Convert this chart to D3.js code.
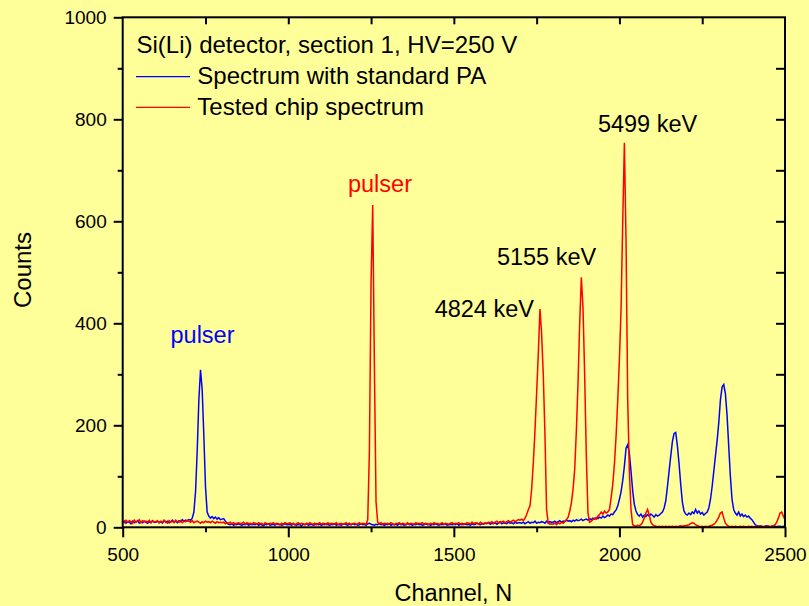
<!DOCTYPE html>
<html><head><meta charset="utf-8">
<script src="https://cdn.jsdelivr.net/npm/d3@7/dist/d3.min.js"></script>
<style>
body{margin:0;background:#ffff99;}
svg{display:block;font-family:Arial,"Liberation Sans",sans-serif;}
</style>
</head><body>
<svg id="chart" width="809" height="606"></svg>
<script>
// ---- data (channels start at 500, step 5) ----
const startChannel = 500;
const channelStep = 5;

const blueCounts = [
  9,12,8,11,10,7,12,9,10,13,8,11,9,12,10,8,11,9,13,10,
  10,12,9,11,8,13,10,12,9,11,14,10,12,9,13,11,15,12,14,13,
  15,14,18,30,70,150,250,309,270,180,80,30,22,18,21,17,20,16,19,15,
  16,17,12,8,6,5,7,4,6,5,7,5,4,6,5,7,4,6,5,6,
  5,7,4,6,5,3,6,5,7,4,5,6,4,7,5,6,4,5,7,5,
  5,6,4,7,5,4,6,5,3,6,5,7,4,5,6,4,5,7,5,6,
  4,6,5,7,5,4,6,5,7,4,6,5,4,6,7,5,4,6,5,7,
  5,6,4,5,7,5,6,4,7,8,6,5,4,6,5,7,5,6,4,6,
  5,7,4,6,5,6,4,7,5,6,4,5,7,5,6,4,6,5,7,5,
  6,4,5,7,5,6,4,6,5,7,5,4,6,5,7,6,4,5,6,5,
  6,5,7,4,6,5,7,6,5,6,4,7,5,6,8,6,5,7,6,8,
  7,9,6,8,7,9,6,8,10,7,9,8,7,10,8,9,7,10,8,9,
  9,8,10,7,9,11,8,10,9,12,8,10,9,11,10,8,12,9,11,10,
  10,12,9,11,13,10,12,11,14,12,13,11,14,12,15,13,14,16,13,15,
  16,14,17,15,18,16,19,17,20,18,22,19,21,24,22,26,25,30,34,42,
  55,70,92,120,155,162,145,110,72,45,32,25,22,26,20,24,21,25,22,26,
  23,20,25,22,24,27,30,38,52,80,110,140,168,184,186,160,125,85,50,32,
  26,24,28,25,30,27,35,28,32,26,29,24,27,30,38,55,80,110,140,170,
  205,250,275,280,262,220,160,100,55,35,28,24,30,22,26,21,24,20,22,18,
  15,10,5,3,2,3,2,1,2,3,2,1,2,3,2,1,2,2,1,2,
  1
];

const redCounts = [
  12,9,14,10,13,11,8,14,10,12,15,9,13,11,12,10,14,9,12,11,
  11,13,9,12,10,14,11,8,13,10,12,9,14,11,10,13,9,12,11,13,
  12,10,13,9,11,12,10,8,11,9,12,10,11,9,12,10,8,11,9,10,
  9,10,7,9,8,10,7,9,6,8,9,7,8,10,6,9,7,8,6,9,
  8,6,9,7,8,5,9,7,6,8,7,9,6,8,7,5,8,6,9,7,
  7,9,6,8,5,7,9,6,8,7,5,8,6,9,7,6,8,5,7,9,
  6,8,7,5,9,6,8,7,6,9,5,7,8,6,7,9,6,8,5,7,
  8,6,7,9,6,8,7,6,15,150,480,632,320,50,10,7,9,6,8,7,
  8,6,9,7,5,8,7,9,6,8,7,5,9,6,8,7,6,9,7,8,
  7,9,6,8,7,5,8,6,9,7,8,6,7,9,5,8,7,6,8,9,
  6,8,7,9,6,8,5,7,9,8,6,10,7,9,8,6,10,8,7,9,
  8,10,9,11,8,10,12,9,11,10,12,9,11,13,10,12,14,11,13,15,
  14,16,13,18,25,35,42,75,127,190,264,340,428,380,300,185,35,8,6,7,
  6,8,5,9,7,10,8,12,15,20,32,48,75,114,190,283,400,490,430,300,
  140,28,10,12,15,18,16,22,25,30,26,32,28,30,35,58,85,125,180,250,
  330,430,600,754,560,250,110,35,5,3,2,4,3,5,10,18,28,35,24,10,
  5,3,2,1,2,1,2,1,2,1,2,1,2,1,2,1,2,3,2,3,
  3,4,5,7,9,8,5,3,2,1,2,1,2,1,2,3,4,6,9,14,
  20,28,30,18,8,4,2,1,2,1,2,1,1,2,1,2,1,1,2,1,
  2,1,1,2,1,2,1,1,2,1,2,1,2,3,5,10,18,28,30,22,
  15
];

const xMajorTicks = [500, 1000, 1500, 2000, 2500];
const xMinorTicks = [750, 1250, 1750, 2250];
const yMajorTicks = [0, 200, 400, 600, 800, 1000];
const yMinorTicks = [100, 300, 500, 700, 900];
const xTopTicks = [750, 1000, 1250, 1500, 1750, 2000, 2250];
const yRightTicks = [100, 200, 300, 400, 500, 600, 700, 800, 900];

const legendTitle = "Si(Li) detector, section 1, HV=250 V";
const seriesNames = ["Spectrum with standard PA", "Tested chip spectrum"];
const seriesColors = ["#0000ff", "#ff0000"];

// peak annotations: [text, channel, counts, color]
const annotations = [
  ["pulser", 741, 362, "#0000ff"],
  ["pulser", 1277, 658, "#ff0000"],
  ["4824 keV", 1592, 412, "#000000"],
  ["5155 keV", 1780, 514, "#000000"],
  ["5499 keV", 2085, 776, "#000000"]
];

// ---- layout ----
const W = 809, H = 606;
const m = {left: 122.7, right: 24, top: 17.3, bottom: 78.7};
const iw = W - m.left - m.right, ih = H - m.top - m.bottom;

const svg = d3.select("#chart");
svg.append("rect").attr("width", W).attr("height", H).attr("fill", "#ffff99");

const x = d3.scaleLinear().domain([500, 2500]).range([0, iw]);
const y = d3.scaleLinear().domain([0, 1000]).range([ih, 0]);

const g = svg.append("g").attr("transform", `translate(${m.left},${m.top})`);

g.append("clipPath").attr("id", "clip").append("rect")
  .attr("x", 0).attr("y", -1).attr("width", iw).attr("height", ih + 1);

const toPoints = arr => arr.map((v, i) => [startChannel + i * channelStep, v]);
const line = d3.line().x(d => x(d[0])).y(d => y(d[1]));

const plot = g.append("g").attr("clip-path", "url(#clip)");
plot.append("path").datum(toPoints(blueCounts))
  .attr("d", line).attr("fill", "none").attr("stroke", seriesColors[0])
  .attr("stroke-width", 1.5);
plot.append("path").datum(toPoints(redCounts))
  .attr("d", line).attr("fill", "none").attr("stroke", seriesColors[1])
  .attr("stroke-width", 1.5);

// ---- axes ----
function styleAxis(sel) {
  sel.select(".domain").remove();
  sel.selectAll(".tick line").attr("stroke", "#000").attr("stroke-width", 2);
  sel.selectAll(".tick text").attr("fill", "#000").style("font-size", "19px")
     .style("font-family", "Arial, 'Liberation Sans', sans-serif");
}

g.append("g").attr("transform", `translate(0,${ih})`)
  .call(d3.axisBottom(x).tickValues(xMajorTicks).tickSize(10).tickPadding(10).tickFormat(d3.format("d")))
  .call(styleAxis);
g.append("g").attr("transform", `translate(0,${ih})`)
  .call(d3.axisBottom(x).tickValues(xMinorTicks).tickSize(5).tickFormat(""))
  .call(styleAxis);
g.append("g")
  .call(d3.axisLeft(y).tickValues(yMajorTicks).tickSize(9).tickPadding(7).tickFormat(d3.format("d")))
  .call(styleAxis);
g.append("g")
  .call(d3.axisLeft(y).tickValues(yMinorTicks).tickSize(5).tickFormat(""))
  .call(styleAxis);
g.append("g")
  .call(d3.axisTop(x).tickValues(xTopTicks).tickSize(-7).tickFormat(""))
  .call(styleAxis);
g.append("g").attr("transform", `translate(${iw},0)`)
  .call(d3.axisRight(y).tickValues(yRightTicks).tickSize(-9).tickFormat(""))
  .call(styleAxis);

g.append("rect").attr("x", 0).attr("y", 0).attr("width", iw).attr("height", ih)
  .attr("fill", "none").attr("stroke", "#000").attr("stroke-width", 2);

// axis titles
svg.append("text").attr("x", m.left + iw / 2 - 0.5).attr("y", 601)
  .attr("text-anchor", "middle").style("font-size", "23.5px").text("Channel, N");
svg.append("text").attr("transform", "translate(31,270) rotate(-90)")
  .attr("text-anchor", "middle").style("font-size", "24px").text("Counts");

// ---- legend ----
const lg = svg.append("g");
lg.append("text").attr("x", 136.5).attr("y", 53.3).style("font-size", "24px").text(legendTitle);
const legendRows = [76.7, 107.3];
seriesNames.forEach((name, i) => {
  lg.append("line").attr("x1", 136).attr("x2", 190)
    .attr("y1", legendRows[i]).attr("y2", legendRows[i])
    .attr("stroke", seriesColors[i]).attr("stroke-width", 1.2);
  lg.append("text").attr("x", 197.3).attr("y", legendRows[i] + 7.6)
    .style("font-size", "24px").text(name);
});

// ---- annotations ----
g.selectAll("text.ann").data(annotations).join("text")
  .attr("class", "ann")
  .attr("x", d => x(d[1])).attr("y", d => y(d[2]))
  .attr("text-anchor", "middle").attr("fill", d => d[3])
  .style("font-size", "23.5px").text(d => d[0]);
</script>
</body></html>
